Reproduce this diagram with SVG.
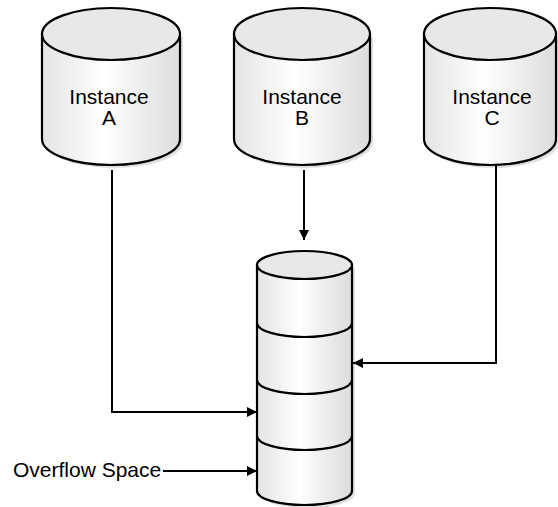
<svg xmlns="http://www.w3.org/2000/svg" width="558" height="507" viewBox="0 0 558 507">
<defs>
<linearGradient id="side" x1="0" y1="0" x2="1" y2="0">
<stop offset="0" stop-color="#e4e4e4"/>
<stop offset="0.45" stop-color="#ffffff"/>
<stop offset="1" stop-color="#dcdcdc"/>
</linearGradient>
<marker id="ah" markerWidth="10" markerHeight="10" refX="10" refY="5" orient="auto" markerUnits="userSpaceOnUse">
<path d="M0,0 L10,5 L0,10 Z" fill="#000"/>
</marker>
</defs>
<style>
.body{fill:url(#side);stroke:#000;stroke-width:2.2}
.top{fill:#e8e8e8;stroke:#000;stroke-width:2.2}
.shadow{fill:#e0e0e0;stroke:none}
.div{fill:none;stroke:#000;stroke-width:2.2}
.lbl{font-family:"Liberation Sans",Arial,sans-serif;font-size:21px;fill:#000}
.conn{fill:none;stroke:#000;stroke-width:2;marker-end:url(#ah)}
</style>
<rect width="558" height="507" fill="#fff"/>
<g id="instanceA">
<path class="shadow" d="M45,37 L45,142 A69,26 0 0 0 183,142 L183,37 Z"/>
<path class="body" d="M42,34 L42,139 A69,26 0 0 0 180,139 L180,34 Z"/>
<ellipse class="top" cx="111" cy="34" rx="69" ry="26"/>
<text class="lbl" text-anchor="middle"><tspan x="109" y="104">Instance</tspan><tspan x="109" y="125">A</tspan></text>
</g>
<g id="instanceB">
<path class="shadow" d="M237,37 L237,142 A68,26 0 0 0 373,142 L373,37 Z"/>
<path class="body" d="M234,34 L234,139 A68,26 0 0 0 370,139 L370,34 Z"/>
<ellipse class="top" cx="302" cy="34" rx="68" ry="26"/>
<text class="lbl" text-anchor="middle"><tspan x="302" y="104">Instance</tspan><tspan x="302" y="125">B</tspan></text>
</g>
<g id="instanceC">
<path class="shadow" d="M427,37 L427,142 A66,26 0 0 0 559,142 L559,37 Z"/>
<path class="body" d="M424,34 L424,139 A66,26 0 0 0 556,139 L556,34 Z"/>
<ellipse class="top" cx="490" cy="34" rx="66" ry="26"/>
<text class="lbl" text-anchor="middle"><tspan x="492" y="104">Instance</tspan><tspan x="492" y="125">C</tspan></text>
</g>
<g id="storage">
<path class="shadow" d="M260,268 L260,494 A47.5,14 0 0 0 355,494 L355,268 Z"/>
<path class="body" d="M257,265 L257,491 A47.5,14 0 0 0 352,491 L352,265 Z"/>
<ellipse class="top" cx="304.5" cy="265" rx="47.5" ry="14"/>
<path class="div" d="M257,323 A47.5,14 0 0 0 352,323"/>
<path class="div" d="M257,380 A47.5,14 0 0 0 352,380"/>
<path class="div" d="M257,436 A47.5,14 0 0 0 352,436"/>
</g>
<g id="overflowLabel">
<text class="lbl" x="13" y="477">Overflow Space</text>
</g>
<g id="connectors">
<path class="conn" d="M112,170 L112,412 L257,412"/>
<path class="conn" d="M304,170 L304,240"/>
<path class="conn" d="M496,166 L496,363 L353,363"/>
<path class="conn" d="M163,471 L257,471"/>
</g>
</svg>
